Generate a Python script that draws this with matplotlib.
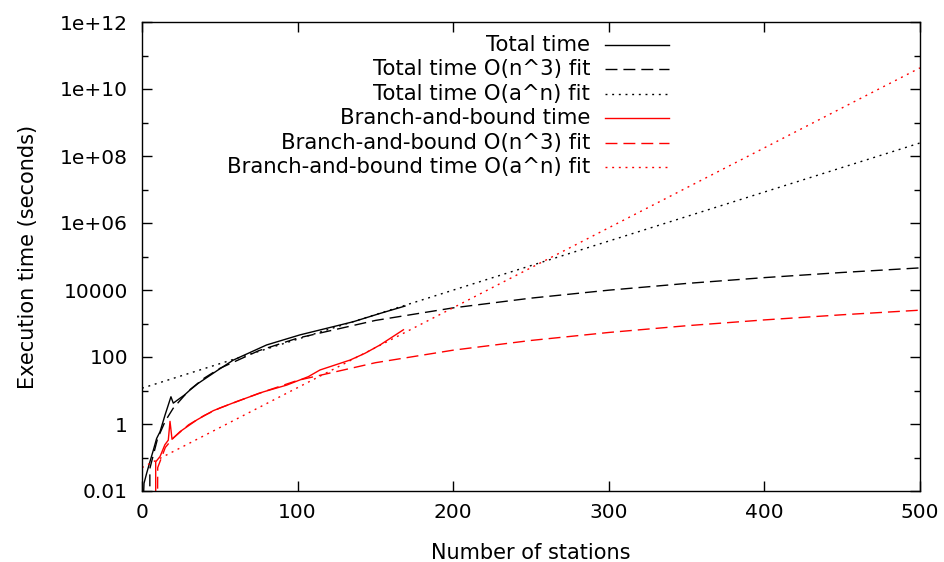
import matplotlib.pyplot as plt
from matplotlib.ticker import FixedLocator, NullFormatter

plt.rcParams['font.family'] = ['DejaVu Sans']
plt.rcParams['font.size'] = 14.5

# Measured total execution time
total_n = [1, 1.3, 3.0, 5.1, 7.3, 9.4, 11.6, 14.8, 16.9, 18.6, 20.1, 27.4,
           30.8, 36, 48.8, 58.7, 80.1, 101.5, 125.1, 135.8, 153, 169]
total_t = [0.008, 0.017, 0.034, 0.075, 0.166, 0.37, 0.59, 1.85, 3.7, 6.5,
           4.2, 7.4, 10.3, 16.2, 40.7, 81, 229, 457, 851, 1130, 2000, 3310]

# Measured branch-and-bound time
bnb_n = [8.8, 8.8, 11.6, 14.7, 16.9, 18.0, 19.3, 24.4, 35.2, 45.8, 60.9,
         78, 93, 106.9, 114.4, 133.7, 143.3, 153, 168]
bnb_t = [0.001, 0.074, 0.107, 0.24, 0.33, 1.2, 0.35, 0.59, 1.32, 2.5, 4.7,
         9.1, 14.5, 25.9, 41, 81, 129, 229, 650]

# Fitted curves
cubic_n = [5, 5.05, 10, 15, 20, 30, 40, 50, 75, 100, 150, 200, 250, 300,
           350, 400, 450, 500]
total_cubic = [0.0001, 0.047, 0.366, 1.235, 2.93, 9.88, 23.4, 45.8, 154,
               366, 1235, 2928, 5719, 9882, 15692, 23424, 33352, 45750]
bnb_cubic_n = [9.9, 10.1, 15, 20, 30, 40, 50, 75, 100, 150, 200, 250, 300,
               350, 400, 450, 500]
bnb_cubic = [0.001, 0.05, 0.2, 0.38, 0.95, 1.8, 3.0, 8.2, 20, 67.5, 160,
             312, 540, 858, 1280, 1823, 2500]

exp_n = [0, 500]
total_exp = [11.7, 2.45e8]
bnb_exp = [0.05, 4.27e10]

labels = ["Total time", "Total time O(n^3) fit", "Total time O(a^n) fit",
          "Branch-and-bound time", "Branch-and-bound O(n^3) fit",
          "Branch-and-bound time O(a^n) fit"]

y_ticks = [1e-2, 1, 1e2, 1e4, 1e6, 1e8, 1e10, 1e12]
y_tick_labels = ["0.01", "1", "100", "10000", "1e+06", "1e+08", "1e+10", "1e+12"]

dash = (0, (8.6, 4.3))
dot = (0, (1.4, 3.4))

fig = plt.figure(figsize=(9.45, 5.62), dpi=100)
ax = fig.add_axes([142 / 945, 1 - 491 / 562, 778 / 945, 469 / 562])

series = [
    (total_n, total_t, 'black', '-'),
    (cubic_n, total_cubic, 'black', dash),
    (exp_n, total_exp, 'black', dot),
    (bnb_n, bnb_t, 'red', '-'),
    (bnb_cubic_n, bnb_cubic, 'red', dash),
    (exp_n, bnb_exp, 'red', dot),
]
for x, y, c, ls in series:
    ax.plot(x, y, color=c, linestyle=ls, linewidth=1.0)

# gnuplot-like key: right aligned labels, sample line on the right
for i, (lab, (x, y, c, ls)) in enumerate(zip(labels, series)):
    yy = 0.951 - i * 0.0522
    ax.text(0.576, yy, lab, transform=ax.transAxes, ha='right', va='center',
            fontsize=15.3)
    ax.plot([0.595, 0.678], [yy, yy], transform=ax.transAxes, color=c,
            linestyle=ls, linewidth=1.0)

ax.set_yscale('log')
ax.set_xlim(0, 500)
ax.set_ylim(0.01, 1e12)
ax.set_xticks([0, 100, 200, 300, 400, 500])
ax.set_yticks(y_ticks)
ax.set_yticklabels(y_tick_labels)
ax.yaxis.set_minor_locator(FixedLocator([10.0 ** k for k in range(-1, 12, 2)]))
ax.yaxis.set_minor_formatter(NullFormatter())

ax.tick_params(which='both', direction='in', top=True, right=True, width=1)
ax.tick_params(which='major', length=7)
ax.tick_params(which='minor', length=4)
ax.tick_params(axis='x', pad=9)
ax.tick_params(axis='y', pad=10)
for s in ax.spines.values():
    s.set_linewidth(1)

ax.set_xlabel("Number of stations", labelpad=15, fontsize=15)
ax.set_ylabel("Execution time (seconds)", labelpad=16, fontsize=15)

fig.savefig("out.png", dpi=100)
